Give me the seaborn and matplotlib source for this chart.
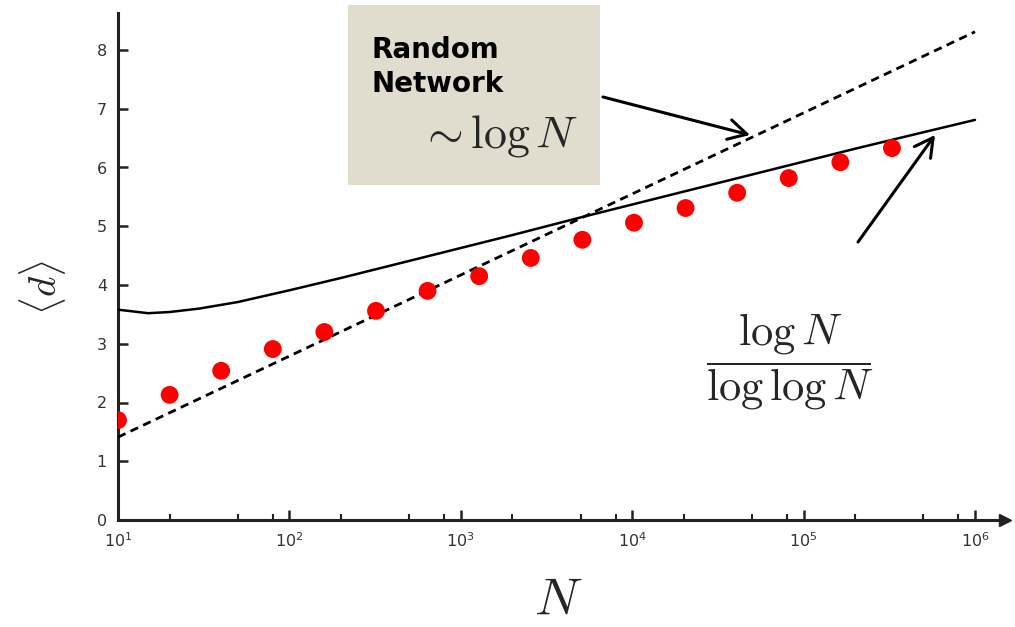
import numpy as np
import pandas as pd
import matplotlib
matplotlib.use("Agg")
import matplotlib.pyplot as plt
import seaborn as sns
from matplotlib.patches import Rectangle

# ---- data ----
sim_N = [10, 20, 40, 80, 160, 320, 640, 1280, 2560, 5120, 10240, 20480,
         40960, 81920, 163840, 327680]
sim_d = [1.70, 2.13, 2.54, 2.91, 3.20, 3.56, 3.90, 4.15, 4.46, 4.77, 5.06,
         5.31, 5.57, 5.82, 6.09, 6.33]

rand_N = [10, 100, 1000, 10000, 100000, 1000000]
rand_d = [1.41, 2.79, 4.17, 5.55, 6.93, 8.31]

ultra_N = [10, 15, 20, 30, 50, 100, 200, 500, 1000, 2000, 5000, 10000,
           20000, 50000, 100000, 200000, 500000, 1000000]
ultra_d = [3.58, 3.52, 3.54, 3.60, 3.71, 3.91, 4.12, 4.41, 4.63, 4.85, 5.15,
           5.37, 5.59, 5.88, 6.10, 6.32, 6.60, 6.81]

y_ticks = [0, 1, 2, 3, 4, 5, 6, 7, 8]

sns.set_style("ticks")
plt.rcParams["font.family"] = ["DejaVu Sans"]

W, H = 1015, 627
fig = plt.figure(figsize=(W / 100, H / 100), dpi=100)
L, R, T, B = 118, 1005, 13, 520
ax = fig.add_axes([L / W, 1 - B / H, (R - L) / W, (B - T) / H])

# background box (behind axes)
fig.patches.append(Rectangle((348 / W, 1 - 185 / H), (600 - 348) / W, (185 - 5) / H,
                             transform=fig.transFigure, facecolor="#e0ddcf",
                             edgecolor="none", zorder=0))
ax.set_facecolor("none")

df_sim = pd.DataFrame({"N": sim_N, "d": sim_d})
df_rand = pd.DataFrame({"N": rand_N, "d": rand_d})
df_ultra = pd.DataFrame({"N": ultra_N, "d": ultra_d})

sns.lineplot(data=df_rand, x="N", y="d", ax=ax, color="black", lw=2.0,
             linestyle=(0, (3, 2)), zorder=3)
sns.lineplot(data=df_ultra, x="N", y="d", ax=ax, color="black", lw=1.8, zorder=3)
sns.scatterplot(data=df_sim, x="N", y="d", ax=ax, color="#ff0000", s=165,
                edgecolor="none", zorder=4)

ax.set_xscale("log")
ax.set_xlim(10, 10 ** (1 + (R - L) / 171.4))
ax.set_ylim(0, (B - T) / 58.75)
ax.set_yticks(y_ticks)
ax.set_xticks([1e1, 1e2, 1e3, 1e4, 1e5, 1e6])
ax.xaxis.set_minor_locator(matplotlib.ticker.LogLocator(base=10, subs=[2, 5, 8]))
ax.xaxis.set_minor_formatter(matplotlib.ticker.NullFormatter())

for s in ["top", "right"]:
    ax.spines[s].set_visible(False)
for s in ["left", "bottom"]:
    ax.spines[s].set_linewidth(2.2)
    ax.spines[s].set_color("#222222")

ax.tick_params(axis="both", which="major", direction="in", length=7, width=1.8,
               color="#222222", labelsize=11.5, labelcolor="#333333", pad=8)
ax.tick_params(axis="x", which="minor", direction="in", length=4, width=1.5,
               color="#222222")
ax.tick_params(axis="y", which="minor", length=0)

# axis arrows
ax.plot(1, 0, ">", color="#222222", ms=9, transform=ax.get_yaxis_transform(),
        clip_on=False)
ax.plot(0, 1, "^", color="#222222", ms=9, transform=ax.get_xaxis_transform(),
        clip_on=False)

ax.set_xlabel(r"$N$", fontsize=38, math_fontfamily="cm", va="center")
ax.xaxis.set_label_coords((558 - L) / (R - L), -(600 - B) / (B - T))
ax.set_ylabel(r"$\langle d\rangle$", fontsize=28, math_fontfamily="cm", va="center")
ax.yaxis.set_label_coords((42 - L) / (R - L), (B - 287) / (B - T))

# annotations
fig.text(372 / W, 1 - 67 / H, "Random\nNetwork", fontsize=20, fontweight="bold",
         family=["DejaVu Sans"], ha="left", va="center",
         linespacing=1.3, color="black")
fig.text(499 / W, 1 - 136 / H, r"$\sim \log N$", fontsize=33, ha="center",
         va="center", math_fontfamily="cm")
fig.text(790 / W, 1 - 362 / H, r"$\dfrac{\log N}{\log\log N}$", fontsize=32,
         ha="center", va="center", math_fontfamily="cm")

def px2data(px, py):
    return 10 ** (1 + (px - L) / 171.4), (B - py) / 58.75

arrow_style = dict(arrowstyle="->,head_length=0.55,head_width=0.3", lw=2.2,
                   color="black", mutation_scale=24, shrinkA=0, shrinkB=0)
ax.annotate("", xy=px2data(750, 135), xytext=px2data(603, 97),
            arrowprops=arrow_style)
ax.annotate("", xy=px2data(935, 135), xytext=px2data(858, 242),
            arrowprops=arrow_style)

fig.savefig("out.png", dpi=100)
